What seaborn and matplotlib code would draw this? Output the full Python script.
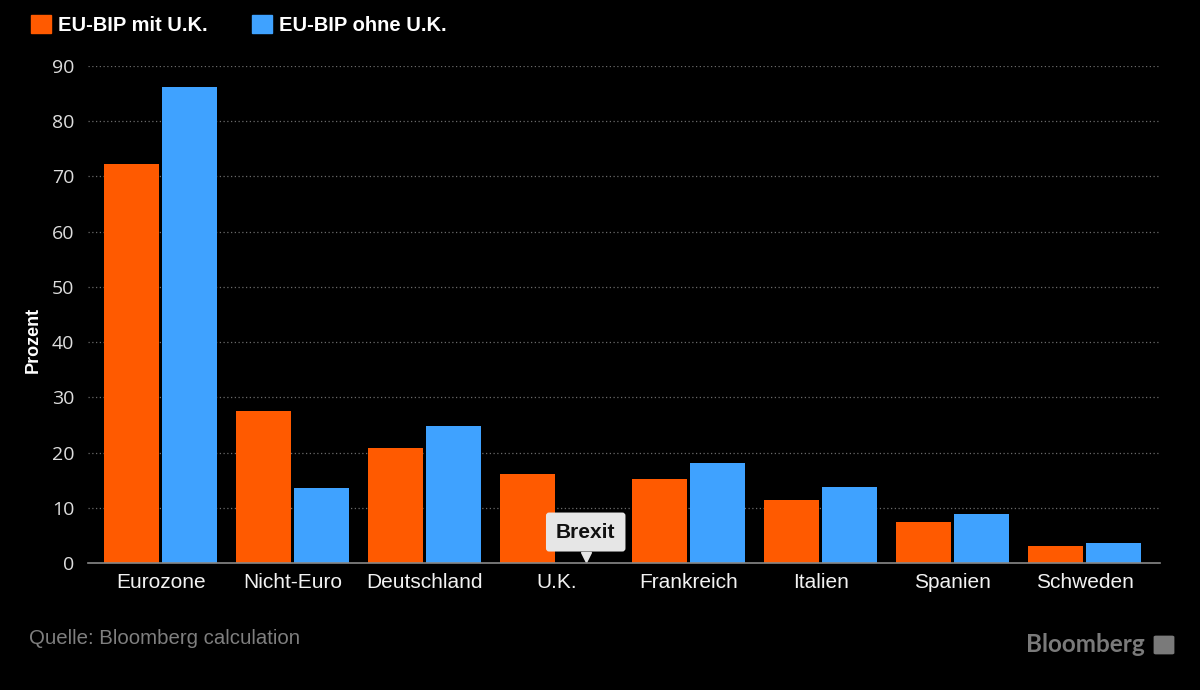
import matplotlib
matplotlib.use('Agg')
import matplotlib.pyplot as plt
import matplotlib.patches as mpatches
from matplotlib.transforms import offset_copy
import seaborn as sns
import pandas as pd

# Daten
laender = ['Eurozone', 'Nicht-Euro', 'Deutschland', 'U.K.', 'Frankreich', 'Italien', 'Spanien', 'Schweden']
mit_uk = [72.3, 27.5, 20.8, 16.1, 15.2, 11.4, 7.4, 3.1]
ohne_uk = [86.2, 13.6, 24.8, 0.0, 18.1, 13.8, 8.9, 3.6]
serien = ['EU-BIP mit U.K.', 'EU-BIP ohne U.K.']
farben = ['#FF5A00', '#3FA2FF']
y_ticks = [0, 10, 20, 30, 40, 50, 60, 70, 80, 90]

df = pd.DataFrame({
    'Land': laender * 2,
    'Wert': mit_uk + ohne_uk,
    'Serie': [serien[0]] * len(laender) + [serien[1]] * len(laender),
})

sns.set_style('dark')
plt.rcParams['font.family'] = ['Liberation Sans', 'DejaVu Sans']

fig = plt.figure(figsize=(12, 6.9), dpi=100, facecolor='black')
ax = fig.add_axes([88 / 1200, 1 - 563 / 690, 1072 / 1200, 497 / 690])
ax.set_facecolor('black')

sns.barplot(data=df, x='Land', y='Wert', hue='Serie', hue_order=serien,
            palette=farben, saturation=1, width=0.88, gap=0.05,
            linewidth=0, legend=False, ax=ax)

ax.set_xlim(-0.55, 7.57)
ax.set_ylim(0, 90)
ax.set_yticks(y_ticks)
ax.set_yticklabels([str(v) for v in y_ticks], family='Open Sans', fontsize=14, color='#dddddd')
ax.tick_params(axis='y', length=0, pad=10)
ax.tick_params(axis='x', length=5, color='#888888', colors='#f2f2f2', labelsize=15, pad=2)
ax.set_xlabel('')
ax.set_ylabel('')

ax.grid(False)
for v in y_ticks[1:]:
    ax.axhline(v, color='#6a6a6a', linestyle=(0, (1, 2)), linewidth=0.9, zorder=0)
for s in ['top', 'right', 'left']:
    ax.spines[s].set_visible(False)
ax.spines['bottom'].set_color('#888888')
ax.spines['bottom'].set_linewidth(1.2)

# Brexit-Hinweis (zeigt auf den leeren U.K.-Balken ohne U.K.)
brexit_x = 3.22
ax.annotate('Brexit', xy=(brexit_x, 0), xytext=(0, 22.3), textcoords='offset points',
            ha='center', va='center', fontsize=15, fontweight='bold', color='#111111',
            bbox=dict(boxstyle='round,pad=0.48,rounding_size=0.15', fc='#e6e6e6', ec='none'))
ax.plot([brexit_x], [0], marker='v', ms=7, color='#e6e6e6', linestyle='none',
        transform=offset_copy(ax.transData, fig=fig, y=6, units='dots'), clip_on=False)

# Legende
handles = [mpatches.Patch(color=c, label=l) for c, l in zip(farben, serien)]
fig.legend(handles=handles, loc='upper left', bbox_to_anchor=(31 / 1200, 1 - 15 / 690), ncol=2,
           frameon=False, borderpad=0, borderaxespad=0, handlelength=1.0, handleheight=1.0,
           handletextpad=0.35, columnspacing=2.2,
           prop={'weight': 'bold', 'size': 14.5}, labelcolor='white')

fig.text(33 / 1200, 1 - 340 / 690, 'Prozent', rotation=90, ha='center', va='center',
         fontsize=13, fontweight='bold', color='white')

fig.text(29 / 1200, 1 - 639 / 690, 'Quelle: Bloomberg calculation', ha='left', va='center',
         fontsize=14.7, color='#7f7f7f')
fig.text(1145 / 1200, 1 - 645 / 690, 'Bloomberg', ha='right', va='center',
         fontsize=17.5, fontweight='bold', color='#7a7a7a', family='Lato')
logo = mpatches.FancyBboxPatch((1156 / 1200, 1 - 653 / 690), 16 / 1200, 16 / 690,
                               boxstyle='round,pad=0.002', transform=fig.transFigure,
                               fc='#7a7a7a', ec='none')
fig.patches.append(logo)

fig.savefig('out.png', dpi=100, facecolor='black')
